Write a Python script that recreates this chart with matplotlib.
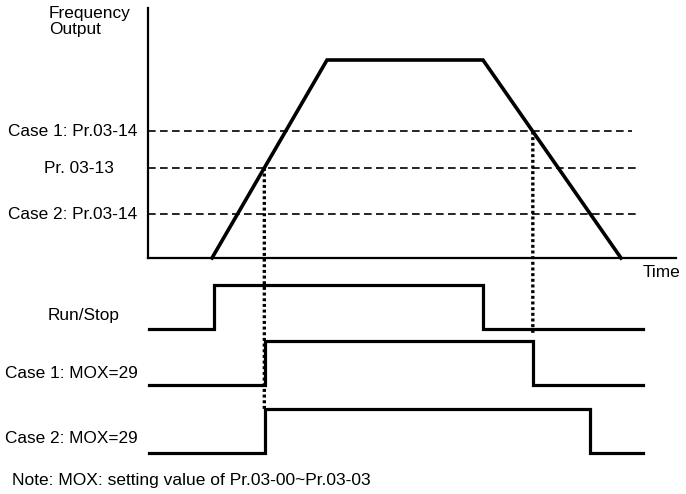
import matplotlib.pyplot as plt
from matplotlib.patches import ConnectionPatch

plt.rcParams['font.family'] = ['Liberation Sans', 'DejaVu Sans']

# frequency output profile (time in diagram units, frequency in % of max)
freq_t = [212, 327, 483, 621]
freq_v = [0, 100, 100, 0]

# detection levels (% of max frequency)
level_names = ['Case 1: Pr.03-14', 'Pr. 03-13', 'Case 2: Pr.03-14']
level_vals = [63.9, 45.5, 22.0]
level_ends = [632, 639, 639]

# digital signals: switch-on / switch-off times
signal_names = ['Run/Stop', 'Case 1: MOX=29', 'Case 2: MOX=29']
signal_on = [214, 265, 265]
signal_off = [483, 533, 590]
signal_base = [329, 385, 453]   # row baselines (figure pixels)
signal_high = 44
t_begin, t_finish = 149, 643

fig = plt.figure(figsize=(6.86, 4.94), dpi=100)

# overlay axes in pixel units for signals and labels
ax = fig.add_axes([0, 0, 1, 1])
ax.set_xlim(0, 686)
ax.set_ylim(494, 0)
ax.axis('off')

# frequency axes
x0, x1, ybot, ytop = 148, 676, 258, 8
ax_f = fig.add_axes([x0 / 686, 1 - ybot / 494, (x1 - x0) / 686, (ybot - ytop) / 494])
ax_f.set_xlim(x0, x1)
ax_f.set_ylim(0, 100 * (ybot - ytop) / (ybot - 60))
ax_f.patch.set_alpha(0)
for s in ['top', 'right']:
    ax_f.spines[s].set_visible(False)
for s in ['left', 'bottom']:
    ax_f.spines[s].set_linewidth(1.6)
ax_f.set_xticks([])
ax_f.set_yticks([])

ax_f.plot(freq_t, freq_v, color='black', lw=2.6, solid_joinstyle='miter', clip_on=False)

for name, v, xe in zip(level_names, level_vals, level_ends):
    ln, = ax_f.plot([x0, xe], [v, v], color='black', lw=1.2)
    ln.set_dashes((4.6, 2.6))


def crossing(v, rising):
    if rising:
        ta, tb, va, vb = freq_t[0], freq_t[1], freq_v[0], freq_v[1]
    else:
        ta, tb, va, vb = freq_t[2], freq_t[3], freq_v[2], freq_v[3]
    return ta + (v - va) / (vb - va) * (tb - ta)


# signals
for name, on, off, base in zip(signal_names, signal_on, signal_off, signal_base):
    xs = [t_begin, on, on, off, off, t_finish]
    ys = [base, base, base - signal_high, base - signal_high, base, base]
    ax.plot(xs, ys, color='black', lw=2.3, solid_joinstyle='miter')

# dotted markers linking frequency levels to signal edges
t_left = crossing(level_vals[1], True)
t_right = crossing(level_vals[0], False)
for t, v, yend in [(t_left, level_vals[1], signal_base[2] - signal_high),
                   (t_right, level_vals[0], 335)]:
    cp = ConnectionPatch((t, v), (t, yend), coordsA=ax_f.transData, coordsB=ax.transData,
                         color='black', lw=2.4, linestyle=(0, (0.9, 0.8)), capstyle='butt')
    fig.add_artist(cp)

fs = 12.4
ax.text(49, 6, 'Frequency\nOutput', fontsize=fs, va='top', ha='left', linespacing=1.1)
ax.text(137, 131, level_names[0], fontsize=fs, va='center', ha='right')
ax.text(79, 168, level_names[1], fontsize=fs, va='center', ha='center')
ax.text(137, 214, level_names[2], fontsize=fs, va='center', ha='right')
ax.text(643, 272, 'Time', fontsize=fs, va='center', ha='left')
ax.text(84, 315, signal_names[0], fontsize=fs, va='center', ha='center')
ax.text(138, 373, signal_names[1], fontsize=fs, va='center', ha='right')
ax.text(138, 438, signal_names[2], fontsize=fs, va='center', ha='right')
ax.text(12, 480, 'Note: MOX: setting value of Pr.03-00~Pr.03-03', fontsize=12.5, va='center', ha='left')

fig.savefig('out.png', dpi=100)
